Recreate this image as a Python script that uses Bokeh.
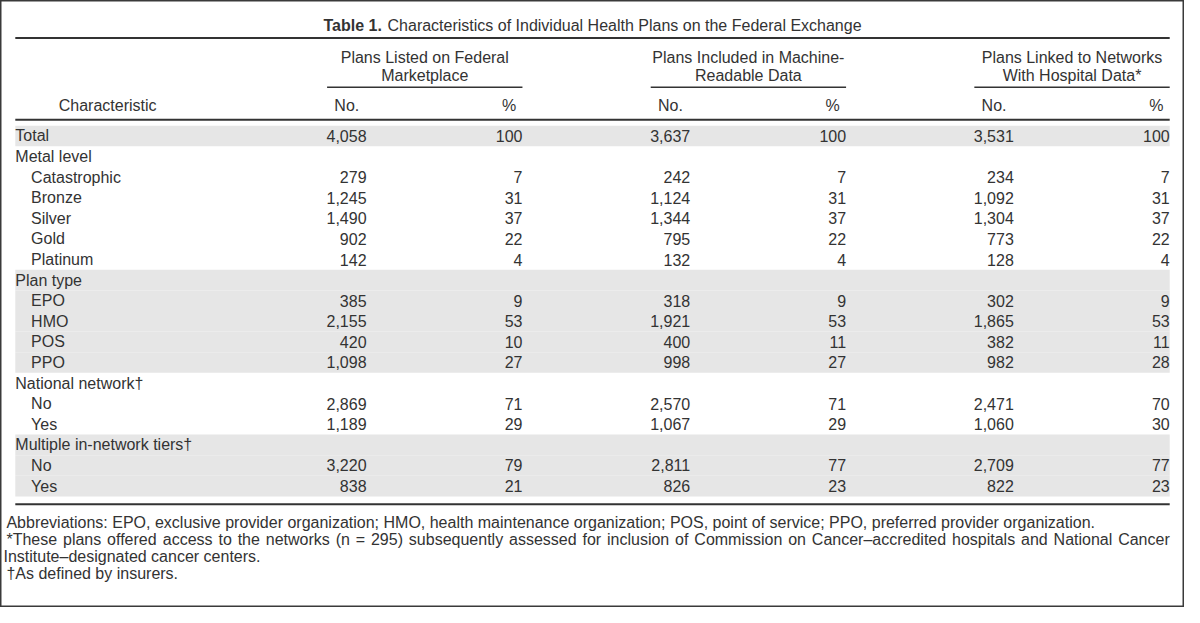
from bokeh.plotting import figure
from bokeh.models import Range1d, ColumnDataSource
from bokeh.core.properties import value
from bokeh.embed import file_html
from bokeh.resources import INLINE

# ---------------- data ----------------
title_bold = "Table 1."
title_rest = "Characteristics of Individual Health Plans on the Federal Exchange"
group_headers = [
    ["Plans Listed on Federal", "Marketplace"],
    ["Plans Included in Machine-", "Readable Data"],
    ["Plans Linked to Networks", "With Hospital Data*"],
]
sub_headers = ["No.", "%"]
stub_header = "Characteristic"

labels = ["Total", "Metal level", "Catastrophic", "Bronze", "Silver", "Gold", "Platinum",
          "Plan type", "EPO", "HMO", "POS", "PPO",
          "National network\u2020", "No", "Yes",
          "Multiple in-network tiers\u2020", "No", "Yes"]
indent = [0, 0, 1, 1, 1, 1, 1, 0, 1, 1, 1, 1, 0, 1, 1, 0, 1, 1]
shaded = [1, 0, 0, 0, 0, 0, 0, 1, 1, 1, 1, 1, 0, 0, 0, 1, 1, 1]

listed_no = [4058, None, 279, 1245, 1490, 902, 142, None, 385, 2155, 420, 1098, None, 2869, 1189, None, 3220, 838]
listed_pct = [100, None, 7, 31, 37, 22, 4, None, 9, 53, 10, 27, None, 71, 29, None, 79, 21]
mr_no = [3637, None, 242, 1124, 1344, 795, 132, None, 318, 1921, 400, 998, None, 2570, 1067, None, 2811, 826]
mr_pct = [100, None, 7, 31, 37, 22, 4, None, 9, 53, 11, 27, None, 71, 29, None, 77, 23]
hd_no = [3531, None, 234, 1092, 1304, 773, 128, None, 302, 1865, 382, 982, None, 2471, 1060, None, 2709, 822]
hd_pct = [100, None, 7, 31, 37, 22, 4, None, 9, 53, 11, 28, None, 70, 30, None, 77, 23]

footnote_abbrev = ("Abbreviations: EPO, exclusive provider organization; HMO, health maintenance "
                   "organization; POS, point of service; PPO, preferred provider organization.")
footnote_star_1 = ("*These plans offered access to the networks (n = 295) subsequently assessed for "
                   "inclusion of Commission on Cancer\u2013accredited hospitals and National Cancer")
footnote_star_2 = "Institute\u2013designated cancer centers."
footnote_dagger = "\u2020As defined by insurers."

# ---------------- layout ----------------
FONT = value("Liberation Sans")
FS_PX = 16
FS = f"{FS_PX}px"
TXT = "#333333"
LINE = "#333333"
SHADE = "#e6e6e6"

W, H = 1184, 607          # figure size in px
XU = 1200 / W             # data units per px (x)

# Helvetica / Liberation Sans advance widths (em) for layout of justified text
_AW = {" ": .278, "*": .389, "(": .333, ")": .333, "=": .584, "-": .333, ".": .278, ",": .278,
       ";": .278, ":": .278, "\u2013": .556, "\u2020": .556}
for ch in "0123456789":
    _AW[ch] = .556
_AW.update(dict(zip("ABCDEFGHIJKLMNOPQRSTUVWXYZ",
                    [.667, .667, .722, .722, .667, .611, .778, .722, .278, .5, .667, .556, .833,
                     .722, .778, .667, .778, .722, .667, .611, .722, .667, .944, .667, .667, .611])))
_AW.update(dict(zip("abcdefghijklmnopqrstuvwxyz",
                    [.556, .556, .5, .556, .556, .278, .556, .556, .222, .222, .5, .222, .833,
                     .556, .556, .556, .556, .333, .5, .278, .556, .5, .722, .5, .5, .5])))
_AWB = dict(_AW)
_AWB.update({"T": .611, "a": .556, "b": .611, "l": .278, "e": .556, "1": .556, ".": .278, " ": .278})


def tw(s, bold=False):
    tab = _AWB if bold else _AW
    return sum(tab.get(c, .556) for c in s) * FS_PX * XU


LEFT, RIGHT = 15, 1185
ROW0, PITCH = 139, 21.14
group_spans = [(331, 529), (659, 857), (987, 1185)]
no_right = [371, 699, 1027]

p = figure(width=W, height=H, x_range=Range1d(0, 1200), y_range=Range1d(623, 0),
           output_backend="svg", toolbar_location=None,
           x_axis_location=None, y_axis_location=None, min_border=0)
p.grid.visible = False
p.outline_line_color = "#3a3a3a"
p.outline_line_width = 2
p.background_fill_color = "white"
p.border_fill_color = "white"

row_y = [ROW0 + PITCH * i for i in range(len(labels))]

# shaded bands
sy = [y for y, s in zip(row_y, shaded) if s]
p.quad(left=[LEFT] * len(sy), right=[RIGHT] * len(sy),
       top=[y - PITCH / 2 for y in sy], bottom=[y + PITCH / 2 for y in sy],
       fill_color=SHADE, line_color=None)

# rules
p.segment(x0=[LEFT] * 3, x1=[RIGHT] * 3, y0=[38.5, 122.5, 517], y1=[38.5, 122.5, 517],
          line_color=LINE, line_width=2)
p.segment(x0=[a for a, b in group_spans], x1=[b for a, b in group_spans],
          y0=[89] * 3, y1=[89] * 3, line_color=LINE, line_width=1.5)


def txt(x, y, t, align="left", style="normal"):
    p.text(x=x, y=y, text=t, text_align=align, text_baseline="middle",
           text_font=FONT, text_font_size=FS, text_color=TXT, text_font_style=style)


# title (bold label + regular text, centred as a whole)
wb, ws, wr = tw(title_bold, True), tw(" "), tw(title_rest)
x0 = 600 - (wb + ws + wr) / 2
txt([x0], [26], [title_bold], style="bold")
txt([x0 + wb + ws], [26], [title_rest])

# group headers
for (a, b), lines in zip(group_spans, group_headers):
    c = (a + b) / 2
    txt([c, c], [58, 76.5], lines, align="center")

# sub headers
txt([59], [107.5], [stub_header])
for (a, b), nr in zip(group_spans, no_right):
    txt([(a + nr) / 2], [107.5], [sub_headers[0]], align="center")
    txt([b - tw("100") / 2], [107.5], [sub_headers[1]], align="center")

# stub labels
txt([LEFT + 16 * k for k in indent], row_y, labels)


def fmt(v):
    return "" if v is None else f"{v:,}"


cols = [(listed_no, no_right[0]), (listed_pct, group_spans[0][1]),
        (mr_no, no_right[1]), (mr_pct, group_spans[1][1]),
        (hd_no, no_right[2]), (hd_pct, group_spans[2][1])]
for vals, xr in cols:
    src = ColumnDataSource(dict(x=[xr] * len(vals), y=row_y, t=[fmt(v) for v in vals]))
    p.text(x="x", y="y", text="t", source=src, text_align="right", text_baseline="middle",
           text_font=FONT, text_font_size=FS, text_color=TXT)

# footnotes
FN_Y = [535.5, 553.5, 570.5, 588]
txt([6], [FN_Y[0]], [footnote_abbrev])
# justified line
words = footnote_star_1.split(" ")
wws = [tw(w) for w in words]
start, end = 6, RIGHT
gap = (end - start - sum(wws)) / (len(words) - 1)
xs, cx = [], start
for w_ in wws:
    xs.append(cx)
    cx += w_ + gap
txt(xs, [FN_Y[1]] * len(words), words)
txt([3], [FN_Y[2]], [footnote_star_2])
txt([6], [FN_Y[3]], [footnote_dagger])

open("out.html", "w").write(file_html(p, INLINE))
